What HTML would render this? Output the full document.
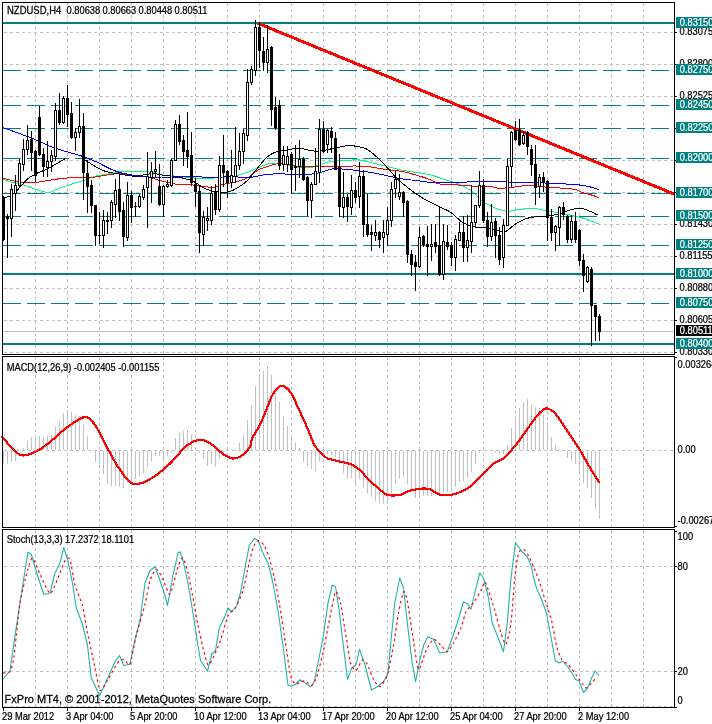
<!DOCTYPE html>
<html><head><meta charset="utf-8"><title>NZDUSD,H4</title>
<style>html,body{margin:0;padding:0;background:#fff;overflow:hidden}svg{display:block}</style>
</head><body><svg width="712" height="724" viewBox="0 0 712 724"><g stroke="#c0c0c0" stroke-width="1" stroke-dasharray="3 3" shape-rendering="crispEdges"><line x1="35.5" y1="3" x2="35.5" y2="354"/><line x1="35.5" y1="357" x2="35.5" y2="527"/><line x1="35.5" y1="530" x2="35.5" y2="707"/><line x1="67.5" y1="3" x2="67.5" y2="354"/><line x1="67.5" y1="357" x2="67.5" y2="527"/><line x1="67.5" y1="530" x2="67.5" y2="707"/><line x1="99.5" y1="3" x2="99.5" y2="354"/><line x1="99.5" y1="357" x2="99.5" y2="527"/><line x1="99.5" y1="530" x2="99.5" y2="707"/><line x1="131.5" y1="3" x2="131.5" y2="354"/><line x1="131.5" y1="357" x2="131.5" y2="527"/><line x1="131.5" y1="530" x2="131.5" y2="707"/><line x1="163.5" y1="3" x2="163.5" y2="354"/><line x1="163.5" y1="357" x2="163.5" y2="527"/><line x1="163.5" y1="530" x2="163.5" y2="707"/><line x1="195.5" y1="3" x2="195.5" y2="354"/><line x1="195.5" y1="357" x2="195.5" y2="527"/><line x1="195.5" y1="530" x2="195.5" y2="707"/><line x1="227.5" y1="3" x2="227.5" y2="354"/><line x1="227.5" y1="357" x2="227.5" y2="527"/><line x1="227.5" y1="530" x2="227.5" y2="707"/><line x1="259.5" y1="3" x2="259.5" y2="354"/><line x1="259.5" y1="357" x2="259.5" y2="527"/><line x1="259.5" y1="530" x2="259.5" y2="707"/><line x1="291.5" y1="3" x2="291.5" y2="354"/><line x1="291.5" y1="357" x2="291.5" y2="527"/><line x1="291.5" y1="530" x2="291.5" y2="707"/><line x1="323.5" y1="3" x2="323.5" y2="354"/><line x1="323.5" y1="357" x2="323.5" y2="527"/><line x1="323.5" y1="530" x2="323.5" y2="707"/><line x1="355.5" y1="3" x2="355.5" y2="354"/><line x1="355.5" y1="357" x2="355.5" y2="527"/><line x1="355.5" y1="530" x2="355.5" y2="707"/><line x1="387.5" y1="3" x2="387.5" y2="354"/><line x1="387.5" y1="357" x2="387.5" y2="527"/><line x1="387.5" y1="530" x2="387.5" y2="707"/><line x1="419.5" y1="3" x2="419.5" y2="354"/><line x1="419.5" y1="357" x2="419.5" y2="527"/><line x1="419.5" y1="530" x2="419.5" y2="707"/><line x1="451.5" y1="3" x2="451.5" y2="354"/><line x1="451.5" y1="357" x2="451.5" y2="527"/><line x1="451.5" y1="530" x2="451.5" y2="707"/><line x1="483.5" y1="3" x2="483.5" y2="354"/><line x1="483.5" y1="357" x2="483.5" y2="527"/><line x1="483.5" y1="530" x2="483.5" y2="707"/><line x1="515.5" y1="3" x2="515.5" y2="354"/><line x1="515.5" y1="357" x2="515.5" y2="527"/><line x1="515.5" y1="530" x2="515.5" y2="707"/><line x1="547.5" y1="3" x2="547.5" y2="354"/><line x1="547.5" y1="357" x2="547.5" y2="527"/><line x1="547.5" y1="530" x2="547.5" y2="707"/><line x1="579.5" y1="3" x2="579.5" y2="354"/><line x1="579.5" y1="357" x2="579.5" y2="527"/><line x1="579.5" y1="530" x2="579.5" y2="707"/><line x1="611.5" y1="3" x2="611.5" y2="354"/><line x1="611.5" y1="357" x2="611.5" y2="527"/><line x1="611.5" y1="530" x2="611.5" y2="707"/><line x1="643.5" y1="3" x2="643.5" y2="354"/><line x1="643.5" y1="357" x2="643.5" y2="527"/><line x1="643.5" y1="530" x2="643.5" y2="707"/><line x1="4" y1="32.5" x2="674" y2="32.5"/><line x1="4" y1="64.5" x2="674" y2="64.5"/><line x1="4" y1="96.5" x2="674" y2="96.5"/><line x1="4" y1="128.5" x2="674" y2="128.5"/><line x1="4" y1="160.5" x2="674" y2="160.5"/><line x1="4" y1="192.5" x2="674" y2="192.5"/><line x1="4" y1="224.5" x2="674" y2="224.5"/><line x1="4" y1="256.5" x2="674" y2="256.5"/><line x1="4" y1="288.5" x2="674" y2="288.5"/><line x1="4" y1="320.5" x2="674" y2="320.5"/><line x1="4" y1="352.5" x2="674" y2="352.5"/><line x1="4" y1="450.5" x2="674" y2="450.5"/><line x1="4" y1="566.5" x2="674" y2="566.5"/><line x1="4" y1="671.5" x2="674" y2="671.5"/><line x1="4" y1="706.5" x2="674" y2="706.5"/></g><g fill="#008080" shape-rendering="crispEdges"><rect x="3" y="22" width="671" height="2"/><rect x="3" y="273" width="671" height="2"/><rect x="3" y="343" width="671" height="2"/></g><g fill="#fff" shape-rendering="crispEdges"><rect x="3" y="70" width="671" height="1"/><rect x="3" y="105" width="671" height="1"/><rect x="3" y="128" width="671" height="1"/><rect x="3" y="158" width="671" height="1"/><rect x="3" y="193" width="671" height="1"/><rect x="3" y="216" width="671" height="1"/><rect x="3" y="245" width="671" height="1"/><rect x="3" y="303" width="671" height="1"/></g><g stroke="#008080" stroke-width="1" stroke-dasharray="18 6" shape-rendering="crispEdges"><line x1="3" y1="70.5" x2="674" y2="70.5"/><line x1="3" y1="105.5" x2="674" y2="105.5"/><line x1="3" y1="128.5" x2="674" y2="128.5"/><line x1="3" y1="158.5" x2="674" y2="158.5"/><line x1="3" y1="193.5" x2="674" y2="193.5"/><line x1="3" y1="216.5" x2="674" y2="216.5"/><line x1="3" y1="245.5" x2="674" y2="245.5"/><line x1="3" y1="303.5" x2="674" y2="303.5"/></g><line x1="3" y1="331.5" x2="674" y2="331.5" stroke="#c0c0c0" stroke-width="1" shape-rendering="crispEdges"/><line x1="258" y1="23.3" x2="674" y2="194.0" stroke="#ff0000" stroke-width="3" shape-rendering="crispEdges"/><path fill="none" stroke="#00ff7f" stroke-width="1" shape-rendering="crispEdges" d="M3.00,179.40 C4.58,179.92 9.25,181.67 12.50,182.50 C15.75,183.33 19.17,183.47 22.50,184.40 C25.83,185.33 28.33,186.75 32.50,188.10 C36.67,189.45 43.75,192.18 47.50,192.50 C51.25,192.82 52.08,191.04 55.00,190.00 C57.92,188.96 61.67,187.40 65.00,186.25 C68.33,185.10 71.67,184.14 75.00,183.10 C78.33,182.06 81.67,181.14 85.00,180.00 C88.33,178.86 90.83,177.29 95.00,176.25 C99.17,175.21 105.00,174.58 110.00,173.75 C115.00,172.92 120.00,171.67 125.00,171.25 C130.00,170.83 135.42,171.04 140.00,171.25 C144.58,171.46 148.33,171.79 152.50,172.50 C156.67,173.21 160.75,174.88 165.00,175.50 C169.25,176.12 171.67,175.71 178.00,176.25 C184.33,176.79 196.33,178.54 203.00,178.75 C209.67,178.96 213.00,177.92 218.00,177.50 C223.00,177.08 228.83,176.88 233.00,176.25 C237.17,175.62 239.67,174.79 243.00,173.75 C246.33,172.71 249.67,171.38 253.00,170.00 C256.33,168.62 259.67,166.62 263.00,165.50 C266.33,164.38 269.67,163.54 273.00,163.25 C276.33,162.96 279.67,163.12 283.00,163.75 C286.33,164.38 289.67,166.38 293.00,167.00 C296.33,167.62 299.67,167.50 303.00,167.50 C306.33,167.50 309.67,167.62 313.00,167.00 C316.33,166.38 319.67,164.71 323.00,163.75 C326.33,162.79 328.83,161.75 333.00,161.25 C337.17,160.75 344.17,161.04 348.00,160.75 C351.83,160.46 352.17,159.21 356.00,159.50 C359.83,159.79 366.00,161.38 371.00,162.50 C376.00,163.62 381.00,165.00 386.00,166.25 C391.00,167.50 396.00,168.96 401.00,170.00 C406.00,171.04 411.00,171.67 416.00,172.50 C421.00,173.33 426.00,173.75 431.00,175.00 C436.00,176.25 441.00,178.33 446.00,180.00 C451.00,181.67 456.42,182.92 461.00,185.00 C465.58,187.08 470.17,190.00 473.50,192.50 C476.83,195.00 478.08,197.71 481.00,200.00 C483.92,202.29 486.83,204.38 491.00,206.25 C495.17,208.12 501.42,210.71 506.00,211.25 C510.58,211.79 513.83,209.96 518.50,209.50 C523.17,209.04 529.58,208.33 534.00,208.50 C538.42,208.67 540.67,209.75 545.00,210.50 C549.33,211.25 555.00,212.04 560.00,213.00 C565.00,213.96 570.83,215.29 575.00,216.25 C579.17,217.21 580.83,217.38 585.00,218.75 C589.17,220.12 597.50,223.54 600.00,224.50"/><path fill="none" stroke="#ff0000" stroke-width="1" shape-rendering="crispEdges" d="M3.00,178.10 C4.58,178.52 9.67,179.91 12.50,180.60 C15.33,181.29 17.92,181.93 20.00,182.25 C22.08,182.57 22.50,182.46 25.00,182.50 C27.50,182.54 31.67,182.75 35.00,182.50 C38.33,182.25 41.67,181.52 45.00,181.00 C48.33,180.48 51.67,179.88 55.00,179.40 C58.33,178.92 60.83,178.37 65.00,178.10 C69.17,177.83 75.00,177.98 80.00,177.80 C85.00,177.62 90.00,177.55 95.00,177.00 C100.00,176.45 105.83,175.04 110.00,174.50 C114.17,173.96 115.83,173.58 120.00,173.75 C124.17,173.92 130.00,174.88 135.00,175.50 C140.00,176.12 145.42,176.54 150.00,177.50 C154.58,178.46 157.83,180.08 162.50,181.25 C167.17,182.42 172.92,183.88 178.00,184.50 C183.08,185.12 188.00,184.58 193.00,185.00 C198.00,185.42 204.25,186.67 208.00,187.00 C211.75,187.33 213.00,187.42 215.50,187.00 C218.00,186.58 219.25,185.46 223.00,184.50 C226.75,183.54 233.83,182.42 238.00,181.25 C242.17,180.08 244.67,179.38 248.00,177.50 C251.33,175.62 254.67,171.88 258.00,170.00 C261.33,168.12 264.67,167.29 268.00,166.25 C271.33,165.21 274.67,164.04 278.00,163.75 C281.33,163.46 284.67,164.08 288.00,164.50 C291.33,164.92 294.67,165.96 298.00,166.25 C301.33,166.54 304.67,166.12 308.00,166.25 C311.33,166.38 313.83,167.00 318.00,167.00 C322.17,167.00 328.00,166.38 333.00,166.25 C338.00,166.12 344.17,166.29 348.00,166.25 C351.83,166.21 352.17,165.88 356.00,166.00 C359.83,166.12 366.00,166.42 371.00,167.00 C376.00,167.58 381.00,168.79 386.00,169.50 C391.00,170.21 396.00,170.33 401.00,171.25 C406.00,172.17 411.00,173.54 416.00,175.00 C421.00,176.46 427.25,178.54 431.00,180.00 C434.75,181.46 435.17,183.00 438.50,183.75 C441.83,184.50 447.75,184.29 451.00,184.50 C454.25,184.71 455.67,184.82 458.00,185.00 C460.33,185.18 462.17,185.39 465.00,185.60 C467.83,185.81 471.67,186.10 475.00,186.25 C478.33,186.40 482.08,186.39 485.00,186.50 C487.92,186.61 490.17,186.57 492.50,186.90 C494.83,187.23 496.50,188.36 499.00,188.50 C501.50,188.64 504.83,188.00 507.50,187.75 C510.17,187.50 512.50,187.29 515.00,187.00 C517.50,186.71 520.00,186.23 522.50,186.00 C525.00,185.77 527.50,185.56 530.00,185.60 C532.50,185.64 535.00,186.02 537.50,186.25 C540.00,186.48 541.25,186.71 545.00,187.00 C548.75,187.29 555.00,187.58 560.00,188.00 C565.00,188.42 571.25,188.75 575.00,189.50 C578.75,190.25 580.00,191.67 582.50,192.50 C585.00,193.33 587.29,193.67 590.00,194.50 C592.71,195.33 597.29,197.00 598.75,197.50"/><path fill="none" stroke="#0000ff" stroke-width="1" shape-rendering="crispEdges" d="M3.00,127.50 C5.83,128.54 14.67,131.75 20.00,133.75 C25.33,135.75 30.00,137.42 35.00,139.50 C40.00,141.58 45.00,144.29 50.00,146.25 C55.00,148.21 60.00,149.71 65.00,151.25 C70.00,152.79 75.00,153.83 80.00,155.50 C85.00,157.17 90.00,159.04 95.00,161.25 C100.00,163.46 105.83,166.88 110.00,168.75 C114.17,170.62 115.83,171.38 120.00,172.50 C124.17,173.62 130.00,174.67 135.00,175.50 C140.00,176.33 145.42,177.08 150.00,177.50 C154.58,177.92 157.83,178.08 162.50,178.00 C167.17,177.92 172.92,177.29 178.00,177.00 C183.08,176.71 188.00,176.17 193.00,176.25 C198.00,176.33 203.00,177.38 208.00,177.50 C213.00,177.62 218.00,177.08 223.00,177.00 C228.00,176.92 233.00,177.00 238.00,177.00 C243.00,177.00 248.83,177.33 253.00,177.00 C257.17,176.67 258.83,175.54 263.00,175.00 C267.17,174.46 273.00,173.83 278.00,173.75 C283.00,173.67 288.00,174.38 293.00,174.50 C298.00,174.62 303.42,174.83 308.00,174.50 C312.58,174.17 316.33,173.46 320.50,172.50 C324.67,171.54 328.42,169.25 333.00,168.75 C337.58,168.25 344.17,169.21 348.00,169.50 C351.83,169.79 352.17,170.00 356.00,170.50 C359.83,171.00 366.00,171.67 371.00,172.50 C376.00,173.33 381.00,174.46 386.00,175.50 C391.00,176.54 396.00,177.92 401.00,178.75 C406.00,179.58 411.00,179.88 416.00,180.50 C421.00,181.12 426.00,182.08 431.00,182.50 C436.00,182.92 441.00,183.00 446.00,183.00 C451.00,183.00 456.00,182.79 461.00,182.50 C466.00,182.21 471.00,181.46 476.00,181.25 C481.00,181.04 486.00,181.12 491.00,181.25 C496.00,181.38 501.00,181.79 506.00,182.00 C511.00,182.21 516.33,182.42 521.00,182.50 C525.67,182.58 530.00,182.42 534.00,182.50 C538.00,182.58 540.67,182.79 545.00,183.00 C549.33,183.21 555.00,183.50 560.00,183.75 C565.00,184.00 570.42,184.08 575.00,184.50 C579.58,184.92 583.54,185.42 587.50,186.25 C591.46,187.08 596.88,188.96 598.75,189.50"/><path fill="none" stroke="#000000" stroke-width="1" shape-rendering="crispEdges" d="M3.00,197.50 C4.07,197.29 7.19,197.29 9.40,196.25 C11.61,195.21 14.28,193.03 16.25,191.25 C18.23,189.47 19.17,187.81 21.25,185.60 C23.33,183.39 26.67,179.77 28.75,178.00 C30.83,176.23 32.29,175.83 33.75,175.00 C35.21,174.17 35.62,173.83 37.50,173.00 C39.38,172.17 42.50,171.17 45.00,170.00 C47.50,168.83 50.21,167.25 52.50,166.00 C54.79,164.75 56.67,163.71 58.75,162.50 C60.83,161.29 63.96,159.38 65.00,158.75"/><path fill="none" stroke="#000000" stroke-width="1" shape-rendering="crispEdges" d="M85.00,160.00 C86.67,161.04 91.67,164.38 95.00,166.25 C98.33,168.12 101.25,170.00 105.00,171.25 C108.75,172.50 112.50,172.92 117.50,173.75 C122.50,174.58 130.42,176.12 135.00,176.25 C139.58,176.38 141.67,174.92 145.00,174.50 C148.33,174.08 151.67,173.58 155.00,173.75 C158.33,173.92 161.17,174.96 165.00,175.50 C168.83,176.04 173.33,176.04 178.00,177.00 C182.67,177.96 188.83,179.50 193.00,181.25 C197.17,183.00 199.67,185.83 203.00,187.50 C206.33,189.17 208.83,190.50 213.00,191.25 C217.17,192.00 223.83,192.62 228.00,192.00 C232.17,191.38 234.67,189.50 238.00,187.50 C241.33,185.50 244.67,183.33 248.00,180.00 C251.33,176.67 254.67,171.46 258.00,167.50 C261.33,163.54 264.67,158.96 268.00,156.25 C271.33,153.54 274.67,152.29 278.00,151.25 C281.33,150.21 284.67,150.54 288.00,150.00 C291.33,149.46 294.67,148.00 298.00,148.00 C301.33,148.00 304.67,149.46 308.00,150.00 C311.33,150.54 314.67,151.33 318.00,151.25 C321.33,151.17 324.67,150.12 328.00,149.50 C331.33,148.88 334.67,148.17 338.00,147.50 C341.33,146.83 345.00,145.71 348.00,145.50 C351.00,145.29 353.00,145.71 356.00,146.25 C359.00,146.79 362.67,147.08 366.00,148.75 C369.33,150.42 372.67,153.33 376.00,156.25 C379.33,159.17 382.67,162.71 386.00,166.25 C389.33,169.79 392.67,174.17 396.00,177.50 C399.33,180.83 402.67,183.54 406.00,186.25 C409.33,188.96 412.67,191.46 416.00,193.75 C419.33,196.04 422.25,197.92 426.00,200.00 C429.75,202.08 434.33,204.17 438.50,206.25 C442.67,208.33 447.25,210.00 451.00,212.50 C454.75,215.00 457.67,218.96 461.00,221.25 C464.33,223.54 467.67,225.21 471.00,226.25 C474.33,227.29 477.67,227.08 481.00,227.50 C484.33,227.92 487.67,228.12 491.00,228.75 C494.33,229.38 498.50,230.83 501.00,231.25 C503.50,231.67 503.50,232.50 506.00,231.25 C508.50,230.00 512.67,225.83 516.00,223.75 C519.33,221.67 523.00,219.88 526.00,218.75 C529.00,217.62 530.83,217.42 534.00,217.00 C537.17,216.58 540.67,216.79 545.00,216.25 C549.33,215.71 555.83,214.79 560.00,213.75 C564.17,212.71 566.67,210.92 570.00,210.00 C573.33,209.08 576.67,208.04 580.00,208.25 C583.33,208.46 587.08,210.12 590.00,211.25 C592.92,212.38 596.25,214.38 597.50,215.00"/><g fill="#000" shape-rendering="crispEdges"><rect x="3" y="196" width="1" height="45"/><rect x="2" y="197" width="3" height="43"/><rect x="7" y="214" width="1" height="44"/><rect x="6" y="216" width="3" height="3"/><rect x="11" y="184" width="1" height="53"/><rect x="10" y="189" width="3" height="30"/><rect x="15" y="175" width="1" height="36"/><rect x="14" y="185" width="3" height="9"/><rect x="19" y="159" width="1" height="28"/><rect x="18" y="163" width="3" height="23"/><rect x="23" y="139" width="1" height="32"/><rect x="22" y="149" width="3" height="16"/><rect x="27" y="125" width="1" height="30"/><rect x="26" y="140" width="3" height="10"/><rect x="31" y="131" width="1" height="40"/><rect x="30" y="139" width="3" height="14"/><rect x="35" y="150" width="1" height="32"/><rect x="34" y="151" width="3" height="25"/><rect x="39" y="106" width="1" height="50"/><rect x="38" y="117" width="3" height="38"/><rect x="43" y="148" width="1" height="29"/><rect x="42" y="154" width="3" height="13"/><rect x="47" y="141" width="1" height="36"/><rect x="46" y="161" width="3" height="7"/><rect x="51" y="150" width="1" height="22"/><rect x="50" y="155" width="3" height="7"/><rect x="55" y="103" width="1" height="58"/><rect x="54" y="110" width="3" height="47"/><rect x="59" y="93" width="1" height="32"/><rect x="58" y="110" width="3" height="13"/><rect x="63" y="96" width="1" height="28"/><rect x="62" y="98" width="3" height="25"/><rect x="67" y="85" width="1" height="42"/><rect x="66" y="98" width="3" height="17"/><rect x="71" y="102" width="1" height="37"/><rect x="70" y="113" width="3" height="25"/><rect x="75" y="128" width="1" height="23"/><rect x="74" y="132" width="3" height="6"/><rect x="79" y="99" width="1" height="39"/><rect x="78" y="126" width="3" height="7"/><rect x="83" y="113" width="1" height="87"/><rect x="82" y="126" width="3" height="47"/><rect x="87" y="160" width="1" height="53"/><rect x="86" y="173" width="3" height="14"/><rect x="91" y="180" width="1" height="33"/><rect x="90" y="185" width="3" height="21"/><rect x="95" y="205" width="1" height="41"/><rect x="94" y="205" width="3" height="31"/><rect x="99" y="212" width="1" height="32"/><rect x="98" y="235" width="3" height="1"/><rect x="103" y="210" width="1" height="38"/><rect x="102" y="220" width="3" height="16"/><rect x="107" y="212" width="1" height="22"/><rect x="106" y="220" width="3" height="2"/><rect x="111" y="200" width="1" height="28"/><rect x="110" y="202" width="3" height="19"/><rect x="115" y="179" width="1" height="39"/><rect x="114" y="190" width="3" height="15"/><rect x="119" y="175" width="1" height="46"/><rect x="118" y="189" width="3" height="23"/><rect x="123" y="202" width="1" height="45"/><rect x="122" y="210" width="3" height="27"/><rect x="127" y="182" width="1" height="59"/><rect x="126" y="195" width="3" height="43"/><rect x="131" y="191" width="1" height="32"/><rect x="130" y="195" width="3" height="13"/><rect x="135" y="202" width="1" height="15"/><rect x="134" y="206" width="3" height="1"/><rect x="139" y="194" width="1" height="14"/><rect x="138" y="196" width="3" height="11"/><rect x="143" y="185" width="1" height="15"/><rect x="142" y="189" width="3" height="9"/><rect x="147" y="152" width="1" height="76"/><rect x="146" y="176" width="3" height="12"/><rect x="151" y="162" width="1" height="41"/><rect x="150" y="171" width="3" height="7"/><rect x="155" y="151" width="1" height="27"/><rect x="154" y="169" width="3" height="3"/><rect x="159" y="164" width="1" height="42"/><rect x="158" y="186" width="3" height="19"/><rect x="163" y="185" width="1" height="32"/><rect x="162" y="186" width="3" height="19"/><rect x="167" y="180" width="1" height="8"/><rect x="166" y="184" width="3" height="3"/><rect x="171" y="159" width="1" height="28"/><rect x="170" y="160" width="3" height="26"/><rect x="175" y="120" width="1" height="41"/><rect x="174" y="124" width="3" height="37"/><rect x="179" y="115" width="1" height="30"/><rect x="178" y="124" width="3" height="18"/><rect x="183" y="135" width="1" height="31"/><rect x="182" y="140" width="3" height="12"/><rect x="187" y="112" width="1" height="56"/><rect x="186" y="150" width="3" height="7"/><rect x="191" y="132" width="1" height="54"/><rect x="190" y="155" width="3" height="28"/><rect x="195" y="178" width="1" height="29"/><rect x="194" y="184" width="3" height="8"/><rect x="199" y="185" width="1" height="68"/><rect x="198" y="191" width="3" height="42"/><rect x="203" y="211" width="1" height="35"/><rect x="202" y="217" width="3" height="18"/><rect x="207" y="207" width="1" height="24"/><rect x="206" y="218" width="3" height="3"/><rect x="211" y="186" width="1" height="39"/><rect x="210" y="193" width="3" height="28"/><rect x="215" y="184" width="1" height="31"/><rect x="214" y="192" width="3" height="18"/><rect x="219" y="156" width="1" height="56"/><rect x="218" y="165" width="3" height="45"/><rect x="223" y="135" width="1" height="52"/><rect x="222" y="165" width="3" height="8"/><rect x="227" y="170" width="1" height="28"/><rect x="226" y="171" width="3" height="12"/><rect x="231" y="150" width="1" height="38"/><rect x="230" y="175" width="3" height="8"/><rect x="235" y="127" width="1" height="56"/><rect x="234" y="165" width="3" height="12"/><rect x="239" y="133" width="1" height="37"/><rect x="238" y="151" width="3" height="15"/><rect x="243" y="129" width="1" height="35"/><rect x="242" y="133" width="3" height="19"/><rect x="247" y="69" width="1" height="72"/><rect x="246" y="82" width="3" height="54"/><rect x="251" y="66" width="1" height="19"/><rect x="250" y="69" width="3" height="14"/><rect x="255" y="20" width="1" height="56"/><rect x="254" y="27" width="3" height="44"/><rect x="259" y="22" width="1" height="46"/><rect x="258" y="27" width="3" height="24"/><rect x="263" y="37" width="1" height="34"/><rect x="262" y="51" width="3" height="12"/><rect x="267" y="25" width="1" height="48"/><rect x="266" y="49" width="3" height="14"/><rect x="271" y="46" width="1" height="80"/><rect x="270" y="47" width="3" height="63"/><rect x="275" y="97" width="1" height="33"/><rect x="274" y="107" width="3" height="21"/><rect x="279" y="100" width="1" height="70"/><rect x="278" y="105" width="3" height="61"/><rect x="283" y="146" width="1" height="25"/><rect x="282" y="155" width="3" height="10"/><rect x="287" y="146" width="1" height="26"/><rect x="286" y="156" width="3" height="9"/><rect x="291" y="152" width="1" height="42"/><rect x="290" y="154" width="3" height="16"/><rect x="295" y="145" width="1" height="46"/><rect x="294" y="166" width="3" height="2"/><rect x="299" y="140" width="1" height="38"/><rect x="298" y="159" width="3" height="8"/><rect x="303" y="157" width="1" height="24"/><rect x="302" y="159" width="3" height="21"/><rect x="307" y="176" width="1" height="40"/><rect x="306" y="177" width="3" height="24"/><rect x="311" y="182" width="1" height="36"/><rect x="310" y="184" width="3" height="17"/><rect x="315" y="148" width="1" height="37"/><rect x="314" y="171" width="3" height="14"/><rect x="319" y="119" width="1" height="64"/><rect x="318" y="129" width="3" height="44"/><rect x="323" y="121" width="1" height="32"/><rect x="322" y="129" width="3" height="23"/><rect x="327" y="129" width="1" height="24"/><rect x="326" y="130" width="3" height="15"/><rect x="331" y="127" width="1" height="26"/><rect x="330" y="131" width="3" height="7"/><rect x="335" y="132" width="1" height="38"/><rect x="334" y="138" width="3" height="32"/><rect x="339" y="154" width="1" height="63"/><rect x="338" y="167" width="3" height="40"/><rect x="343" y="172" width="1" height="46"/><rect x="342" y="197" width="3" height="11"/><rect x="347" y="194" width="1" height="28"/><rect x="346" y="197" width="3" height="10"/><rect x="351" y="175" width="1" height="40"/><rect x="350" y="190" width="3" height="18"/><rect x="355" y="182" width="1" height="21"/><rect x="354" y="190" width="3" height="8"/><rect x="359" y="162" width="1" height="46"/><rect x="358" y="176" width="3" height="21"/><rect x="363" y="170" width="1" height="67"/><rect x="362" y="176" width="3" height="49"/><rect x="367" y="194" width="1" height="43"/><rect x="366" y="224" width="3" height="11"/><rect x="371" y="225" width="1" height="26"/><rect x="370" y="232" width="3" height="3"/><rect x="375" y="220" width="1" height="21"/><rect x="374" y="232" width="3" height="4"/><rect x="379" y="231" width="1" height="17"/><rect x="378" y="232" width="3" height="8"/><rect x="383" y="220" width="1" height="33"/><rect x="382" y="232" width="3" height="6"/><rect x="387" y="207" width="1" height="39"/><rect x="386" y="220" width="3" height="15"/><rect x="391" y="182" width="1" height="45"/><rect x="390" y="189" width="3" height="32"/><rect x="395" y="171" width="1" height="27"/><rect x="394" y="179" width="3" height="10"/><rect x="399" y="174" width="1" height="26"/><rect x="398" y="192" width="3" height="5"/><rect x="403" y="191" width="1" height="26"/><rect x="402" y="192" width="3" height="11"/><rect x="407" y="200" width="1" height="63"/><rect x="406" y="201" width="3" height="54"/><rect x="411" y="250" width="1" height="26"/><rect x="410" y="254" width="3" height="11"/><rect x="415" y="255" width="1" height="36"/><rect x="414" y="262" width="3" height="5"/><rect x="419" y="227" width="1" height="41"/><rect x="418" y="237" width="3" height="30"/><rect x="423" y="235" width="1" height="12"/><rect x="422" y="236" width="3" height="9"/><rect x="427" y="226" width="1" height="50"/><rect x="426" y="244" width="3" height="3"/><rect x="431" y="224" width="1" height="37"/><rect x="430" y="244" width="3" height="3"/><rect x="435" y="224" width="1" height="29"/><rect x="434" y="242" width="3" height="5"/><rect x="439" y="207" width="1" height="69"/><rect x="438" y="245" width="3" height="30"/><rect x="443" y="224" width="1" height="56"/><rect x="442" y="241" width="3" height="34"/><rect x="447" y="225" width="1" height="25"/><rect x="446" y="242" width="3" height="5"/><rect x="451" y="242" width="1" height="24"/><rect x="450" y="245" width="3" height="13"/><rect x="455" y="235" width="1" height="36"/><rect x="454" y="239" width="3" height="19"/><rect x="459" y="222" width="1" height="19"/><rect x="458" y="232" width="3" height="9"/><rect x="463" y="216" width="1" height="46"/><rect x="462" y="232" width="3" height="16"/><rect x="467" y="215" width="1" height="47"/><rect x="466" y="240" width="3" height="8"/><rect x="471" y="185" width="1" height="68"/><rect x="470" y="222" width="3" height="20"/><rect x="475" y="205" width="1" height="23"/><rect x="474" y="205" width="3" height="18"/><rect x="479" y="171" width="1" height="37"/><rect x="478" y="185" width="3" height="21"/><rect x="483" y="179" width="1" height="44"/><rect x="482" y="185" width="3" height="36"/><rect x="487" y="212" width="1" height="35"/><rect x="486" y="220" width="3" height="17"/><rect x="491" y="204" width="1" height="37"/><rect x="490" y="222" width="3" height="15"/><rect x="495" y="218" width="1" height="40"/><rect x="494" y="221" width="3" height="15"/><rect x="499" y="227" width="1" height="38"/><rect x="498" y="235" width="3" height="25"/><rect x="503" y="219" width="1" height="49"/><rect x="502" y="225" width="3" height="33"/><rect x="507" y="159" width="1" height="67"/><rect x="506" y="166" width="3" height="60"/><rect x="511" y="131" width="1" height="56"/><rect x="510" y="132" width="3" height="35"/><rect x="515" y="121" width="1" height="20"/><rect x="514" y="130" width="3" height="10"/><rect x="519" y="119" width="1" height="27"/><rect x="518" y="130" width="3" height="15"/><rect x="523" y="131" width="1" height="14"/><rect x="522" y="135" width="3" height="9"/><rect x="527" y="131" width="1" height="24"/><rect x="526" y="132" width="3" height="15"/><rect x="531" y="145" width="1" height="31"/><rect x="530" y="149" width="3" height="16"/><rect x="535" y="145" width="1" height="60"/><rect x="534" y="164" width="3" height="24"/><rect x="539" y="174" width="1" height="24"/><rect x="538" y="177" width="3" height="10"/><rect x="543" y="172" width="1" height="20"/><rect x="542" y="177" width="3" height="5"/><rect x="547" y="180" width="1" height="61"/><rect x="546" y="181" width="3" height="37"/><rect x="551" y="209" width="1" height="32"/><rect x="550" y="217" width="3" height="16"/><rect x="555" y="225" width="1" height="26"/><rect x="554" y="226" width="3" height="7"/><rect x="559" y="206" width="1" height="40"/><rect x="558" y="207" width="3" height="21"/><rect x="563" y="202" width="1" height="18"/><rect x="562" y="207" width="3" height="8"/><rect x="567" y="215" width="1" height="28"/><rect x="566" y="216" width="3" height="24"/><rect x="571" y="215" width="1" height="28"/><rect x="570" y="221" width="3" height="19"/><rect x="575" y="212" width="1" height="31"/><rect x="574" y="221" width="3" height="19"/><rect x="579" y="229" width="1" height="37"/><rect x="578" y="230" width="3" height="31"/><rect x="583" y="254" width="1" height="38"/><rect x="582" y="260" width="3" height="16"/><rect x="587" y="266" width="1" height="17"/><rect x="586" y="267" width="3" height="15"/><rect x="591" y="267" width="1" height="79"/><rect x="590" y="269" width="3" height="37"/><rect x="595" y="305" width="1" height="36"/><rect x="594" y="305" width="3" height="12"/><rect x="599" y="314" width="1" height="27"/><rect x="598" y="316" width="3" height="16"/></g><g fill="#fff" shape-rendering="crispEdges"><rect x="11" y="190" width="1" height="28"/><rect x="15" y="186" width="1" height="7"/><rect x="19" y="164" width="1" height="21"/><rect x="23" y="150" width="1" height="14"/><rect x="27" y="141" width="1" height="8"/><rect x="47" y="162" width="1" height="5"/><rect x="51" y="156" width="1" height="5"/><rect x="55" y="111" width="1" height="45"/><rect x="63" y="99" width="1" height="23"/><rect x="75" y="133" width="1" height="4"/><rect x="79" y="127" width="1" height="5"/><rect x="103" y="221" width="1" height="14"/><rect x="111" y="203" width="1" height="17"/><rect x="115" y="191" width="1" height="13"/><rect x="127" y="196" width="1" height="41"/><rect x="139" y="197" width="1" height="9"/><rect x="143" y="190" width="1" height="7"/><rect x="147" y="177" width="1" height="10"/><rect x="151" y="172" width="1" height="5"/><rect x="155" y="170" width="1" height="1"/><rect x="163" y="187" width="1" height="17"/><rect x="167" y="185" width="1" height="1"/><rect x="171" y="161" width="1" height="24"/><rect x="175" y="125" width="1" height="35"/><rect x="203" y="218" width="1" height="16"/><rect x="207" y="219" width="1" height="1"/><rect x="211" y="194" width="1" height="26"/><rect x="219" y="166" width="1" height="43"/><rect x="231" y="176" width="1" height="6"/><rect x="235" y="166" width="1" height="10"/><rect x="239" y="152" width="1" height="13"/><rect x="243" y="134" width="1" height="17"/><rect x="247" y="83" width="1" height="52"/><rect x="251" y="70" width="1" height="12"/><rect x="255" y="28" width="1" height="42"/><rect x="267" y="50" width="1" height="12"/><rect x="283" y="156" width="1" height="8"/><rect x="287" y="157" width="1" height="7"/><rect x="299" y="160" width="1" height="6"/><rect x="311" y="185" width="1" height="15"/><rect x="315" y="172" width="1" height="12"/><rect x="319" y="130" width="1" height="42"/><rect x="327" y="131" width="1" height="13"/><rect x="343" y="198" width="1" height="9"/><rect x="351" y="191" width="1" height="16"/><rect x="359" y="177" width="1" height="19"/><rect x="375" y="233" width="1" height="2"/><rect x="383" y="233" width="1" height="4"/><rect x="387" y="221" width="1" height="13"/><rect x="391" y="190" width="1" height="30"/><rect x="395" y="180" width="1" height="8"/><rect x="399" y="193" width="1" height="3"/><rect x="419" y="238" width="1" height="28"/><rect x="431" y="245" width="1" height="1"/><rect x="443" y="242" width="1" height="32"/><rect x="455" y="240" width="1" height="17"/><rect x="459" y="233" width="1" height="7"/><rect x="467" y="241" width="1" height="6"/><rect x="471" y="223" width="1" height="18"/><rect x="475" y="206" width="1" height="16"/><rect x="479" y="186" width="1" height="19"/><rect x="491" y="223" width="1" height="13"/><rect x="503" y="226" width="1" height="31"/><rect x="507" y="167" width="1" height="58"/><rect x="511" y="133" width="1" height="33"/><rect x="523" y="136" width="1" height="7"/><rect x="539" y="178" width="1" height="8"/><rect x="555" y="227" width="1" height="5"/><rect x="559" y="208" width="1" height="19"/><rect x="571" y="222" width="1" height="17"/><rect x="587" y="268" width="1" height="13"/></g><g fill="#c0c0c0" shape-rendering="crispEdges"><rect x="3" y="451" width="1" height="12"/><rect x="7" y="451" width="1" height="13"/><rect x="11" y="451" width="1" height="11"/><rect x="15" y="451" width="1" height="10"/><rect x="23" y="448" width="1" height="2"/><rect x="27" y="441" width="1" height="9"/><rect x="31" y="437" width="1" height="13"/><rect x="35" y="438" width="1" height="12"/><rect x="39" y="436" width="1" height="14"/><rect x="43" y="437" width="1" height="13"/><rect x="47" y="436" width="1" height="14"/><rect x="51" y="435" width="1" height="15"/><rect x="55" y="427" width="1" height="23"/><rect x="59" y="421" width="1" height="29"/><rect x="63" y="413" width="1" height="37"/><rect x="67" y="410" width="1" height="40"/><rect x="71" y="412" width="1" height="38"/><rect x="75" y="415" width="1" height="35"/><rect x="79" y="416" width="1" height="34"/><rect x="83" y="425" width="1" height="25"/><rect x="87" y="436" width="1" height="14"/><rect x="95" y="451" width="1" height="11"/><rect x="99" y="451" width="1" height="16"/><rect x="103" y="451" width="1" height="23"/><rect x="107" y="451" width="1" height="33"/><rect x="111" y="451" width="1" height="35"/><rect x="115" y="451" width="1" height="35"/><rect x="119" y="451" width="1" height="36"/><rect x="123" y="451" width="1" height="37"/><rect x="127" y="451" width="1" height="32"/><rect x="131" y="451" width="1" height="31"/><rect x="135" y="451" width="1" height="28"/><rect x="139" y="451" width="1" height="25"/><rect x="143" y="451" width="1" height="22"/><rect x="147" y="451" width="1" height="16"/><rect x="151" y="451" width="1" height="10"/><rect x="155" y="451" width="1" height="5"/><rect x="159" y="451" width="1" height="5"/><rect x="163" y="451" width="1" height="8"/><rect x="167" y="451" width="1" height="5"/><rect x="171" y="451" width="1" height="2"/><rect x="175" y="438" width="1" height="12"/><rect x="179" y="433" width="1" height="17"/><rect x="183" y="431" width="1" height="19"/><rect x="187" y="430" width="1" height="20"/><rect x="191" y="435" width="1" height="15"/><rect x="195" y="449" width="1" height="1"/><rect x="199" y="451" width="1" height="2"/><rect x="203" y="451" width="1" height="8"/><rect x="207" y="451" width="1" height="15"/><rect x="211" y="451" width="1" height="13"/><rect x="215" y="451" width="1" height="16"/><rect x="219" y="451" width="1" height="8"/><rect x="223" y="451" width="1" height="5"/><rect x="235" y="449" width="1" height="1"/><rect x="239" y="443" width="1" height="7"/><rect x="243" y="435" width="1" height="15"/><rect x="247" y="420" width="1" height="30"/><rect x="251" y="405" width="1" height="45"/><rect x="255" y="386" width="1" height="64"/><rect x="259" y="374" width="1" height="76"/><rect x="263" y="371" width="1" height="79"/><rect x="267" y="366" width="1" height="84"/><rect x="271" y="375" width="1" height="75"/><rect x="275" y="387" width="1" height="63"/><rect x="279" y="402" width="1" height="48"/><rect x="283" y="416" width="1" height="34"/><rect x="287" y="426" width="1" height="24"/><rect x="291" y="435" width="1" height="15"/><rect x="295" y="443" width="1" height="7"/><rect x="299" y="448" width="1" height="2"/><rect x="303" y="451" width="1" height="11"/><rect x="307" y="451" width="1" height="15"/><rect x="311" y="451" width="1" height="18"/><rect x="315" y="451" width="1" height="20"/><rect x="319" y="451" width="1" height="10"/><rect x="323" y="451" width="1" height="5"/><rect x="327" y="451" width="1" height="3"/><rect x="331" y="451" width="1" height="4"/><rect x="335" y="451" width="1" height="6"/><rect x="339" y="451" width="1" height="13"/><rect x="343" y="451" width="1" height="22"/><rect x="347" y="451" width="1" height="28"/><rect x="351" y="451" width="1" height="27"/><rect x="355" y="451" width="1" height="35"/><rect x="359" y="451" width="1" height="28"/><rect x="363" y="451" width="1" height="36"/><rect x="367" y="451" width="1" height="42"/><rect x="371" y="451" width="1" height="46"/><rect x="375" y="451" width="1" height="50"/><rect x="379" y="451" width="1" height="52"/><rect x="383" y="451" width="1" height="53"/><rect x="387" y="451" width="1" height="51"/><rect x="391" y="451" width="1" height="42"/><rect x="395" y="451" width="1" height="33"/><rect x="399" y="451" width="1" height="28"/><rect x="403" y="451" width="1" height="26"/><rect x="407" y="451" width="1" height="33"/><rect x="411" y="451" width="1" height="41"/><rect x="415" y="451" width="1" height="47"/><rect x="419" y="451" width="1" height="46"/><rect x="423" y="451" width="1" height="45"/><rect x="427" y="451" width="1" height="45"/><rect x="431" y="451" width="1" height="45"/><rect x="435" y="451" width="1" height="43"/><rect x="439" y="451" width="1" height="45"/><rect x="443" y="451" width="1" height="42"/><rect x="447" y="451" width="1" height="41"/><rect x="451" y="451" width="1" height="40"/><rect x="455" y="451" width="1" height="36"/><rect x="459" y="451" width="1" height="31"/><rect x="463" y="451" width="1" height="30"/><rect x="467" y="451" width="1" height="27"/><rect x="471" y="451" width="1" height="21"/><rect x="475" y="451" width="1" height="13"/><rect x="479" y="451" width="1" height="2"/><rect x="495" y="451" width="1" height="2"/><rect x="499" y="451" width="1" height="3"/><rect x="503" y="451" width="1" height="3"/><rect x="507" y="445" width="1" height="5"/><rect x="511" y="428" width="1" height="22"/><rect x="515" y="416" width="1" height="34"/><rect x="519" y="408" width="1" height="42"/><rect x="523" y="402" width="1" height="48"/><rect x="527" y="399" width="1" height="51"/><rect x="531" y="405" width="1" height="45"/><rect x="535" y="407" width="1" height="43"/><rect x="539" y="408" width="1" height="42"/><rect x="543" y="415" width="1" height="35"/><rect x="547" y="422" width="1" height="28"/><rect x="551" y="437" width="1" height="13"/><rect x="555" y="445" width="1" height="5"/><rect x="559" y="449" width="1" height="1"/><rect x="567" y="451" width="1" height="7"/><rect x="571" y="451" width="1" height="10"/><rect x="575" y="451" width="1" height="13"/><rect x="579" y="451" width="1" height="23"/><rect x="583" y="451" width="1" height="32"/><rect x="587" y="451" width="1" height="37"/><rect x="591" y="451" width="1" height="47"/><rect x="595" y="451" width="1" height="58"/><rect x="599" y="451" width="1" height="68"/></g><path fill="none" stroke="#ff0000" stroke-width="2.2" shape-rendering="crispEdges" d="M2.50,437.00 C2.67,437.25 0.58,435.54 3.50,438.50 C6.42,441.46 14.75,452.50 20.00,454.75 C25.25,457.00 30.00,454.12 35.00,452.00 C40.00,449.88 44.58,446.17 50.00,442.00 C55.42,437.83 61.67,431.17 67.50,427.00 C73.33,422.83 80.42,417.33 85.00,417.00 C89.58,416.67 91.67,420.58 95.00,425.00 C98.33,429.42 101.25,436.67 105.00,443.50 C108.75,450.33 113.33,459.58 117.50,466.00 C121.67,472.42 126.25,479.08 130.00,482.00 C133.75,484.92 135.83,484.50 140.00,483.50 C144.17,482.50 150.00,479.33 155.00,476.00 C160.00,472.67 166.17,467.04 170.00,463.50 C173.83,459.96 175.00,457.88 178.00,454.75 C181.00,451.62 184.25,447.25 188.00,444.75 C191.75,442.25 196.75,439.96 200.50,439.75 C204.25,439.54 206.75,441.12 210.50,443.50 C214.25,445.88 219.25,451.50 223.00,454.00 C226.75,456.50 229.67,458.38 233.00,458.50 C236.33,458.62 240.08,456.83 243.00,454.75 C245.92,452.67 249.00,448.66 250.50,446.00 C252.00,443.34 250.45,442.30 252.00,438.80 C253.55,435.30 257.52,429.58 259.80,425.00 C262.08,420.42 263.73,416.03 265.70,411.30 C267.67,406.57 269.80,400.23 271.60,396.60 C273.40,392.97 274.85,391.32 276.50,389.50 C278.15,387.68 279.92,386.03 281.50,385.70 C283.08,385.37 284.37,386.18 286.00,387.50 C287.63,388.82 289.63,391.02 291.30,393.60 C292.97,396.18 294.37,399.57 296.00,403.00 C297.63,406.43 299.43,410.53 301.10,414.20 C302.77,417.87 304.35,421.22 306.00,425.00 C307.65,428.78 309.50,433.40 311.00,436.90 C312.50,440.40 312.58,442.61 315.00,446.00 C317.42,449.39 322.08,454.83 325.50,457.25 C328.92,459.67 331.33,459.38 335.50,460.50 C339.67,461.62 347.08,462.83 350.50,464.00 C353.92,465.17 354.25,466.33 356.00,467.50 C357.75,468.67 358.92,468.96 361.00,471.00 C363.08,473.04 365.79,477.04 368.50,479.75 C371.21,482.46 374.12,484.75 377.25,487.25 C380.38,489.75 383.29,493.50 387.25,494.75 C391.21,496.00 397.46,495.38 401.00,494.75 C404.54,494.12 404.75,492.04 408.50,491.00 C412.25,489.96 419.75,488.71 423.50,488.50 C427.25,488.29 428.29,488.71 431.00,489.75 C433.71,490.79 436.42,493.92 439.75,494.75 C443.08,495.58 447.67,495.17 451.00,494.75 C454.33,494.33 456.42,493.71 459.75,492.25 C463.08,490.79 467.25,488.92 471.00,486.00 C474.75,483.08 478.50,478.50 482.25,474.75 C486.00,471.00 489.96,466.21 493.50,463.50 C497.04,460.79 499.75,461.62 503.50,458.50 C507.25,455.38 512.25,449.33 516.00,444.75 C519.75,440.17 523.00,435.17 526.00,431.00 C529.00,426.83 531.62,422.88 534.00,419.75 C536.38,416.62 538.38,414.09 540.25,412.25 C542.12,410.41 543.79,409.24 545.25,408.70 C546.71,408.16 547.54,408.41 549.00,409.00 C550.46,409.59 552.33,410.67 554.00,412.25 C555.67,413.83 556.50,414.96 559.00,418.50 C561.50,422.04 565.67,428.50 569.00,433.50 C572.33,438.50 575.67,443.08 579.00,448.50 C582.33,453.92 585.58,460.25 589.00,466.00 C592.42,471.75 597.75,480.17 599.50,483.00"/><polyline fill="none" stroke="#20b2aa" stroke-width="1.1" stroke-linejoin="round" points="3.00,679.25 10.00,670.50 15.00,635.50 20.00,603.00 25.00,570.50 28.00,552.25 31.25,554.25 37.50,575.50 43.75,594.25 50.00,593.50 54.50,574.25 60.00,563.00 63.75,547.50 67.50,559.25 72.50,583.00 76.25,608.00 82.50,624.25 87.50,645.50 91.25,678.00 95.00,685.50 99.50,696.00 105.00,684.25 110.00,673.00 115.00,661.75 119.50,655.50 123.75,665.50 130.00,664.25 135.00,639.25 140.00,620.50 145.00,583.00 150.00,570.50 155.00,566.75 160.00,580.50 165.00,595.50 167.50,605.50 172.50,578.00 178.00,553.00 180.00,551.75 183.00,560.50 188.00,583.00 193.00,613.00 198.00,645.50 200.50,660.50 207.50,671.00 211.75,654.25 215.50,650.50 219.25,628.00 224.25,618.00 228.00,608.00 231.75,611.75 236.75,605.50 240.50,593.00 245.50,565.50 249.25,545.50 254.25,538.50 258.00,540.50 263.00,553.00 268.00,563.00 273.00,583.00 278.00,610.50 283.00,645.50 288.00,685.50 291.75,686.00 295.50,684.25 300.00,679.75 304.25,682.50 310.50,686.75 314.25,681.75 318.00,663.00 323.00,638.00 328.00,603.00 332.25,585.00 335.50,586.75 339.25,610.50 343.00,643.00 347.50,679.25 351.75,668.00 356.00,665.00 359.50,649.25 364.75,664.25 371.50,690.00 377.25,686.75 383.50,681.75 388.00,673.00 391.00,640.50 394.75,603.00 399.75,578.00 403.50,588.00 408.50,633.00 412.25,663.00 415.50,681.75 419.75,660.50 423.50,645.50 427.75,636.75 433.50,639.25 439.75,653.00 447.25,651.75 452.25,638.00 457.25,623.00 463.50,601.75 468.00,604.25 471.00,609.25 474.75,593.00 479.75,573.00 483.50,578.00 488.50,598.00 492.25,623.00 497.25,635.50 503.50,651.75 507.25,623.00 511.00,578.00 515.50,542.50 521.00,550.50 527.25,556.75 531.00,565.50 534.00,579.25 536.50,588.00 541.50,599.25 546.50,613.00 550.25,633.00 555.25,660.50 559.00,663.00 562.75,661.25 567.75,666.75 572.75,674.25 575.25,679.25 579.00,681.00 583.50,692.50 587.75,688.00 591.50,678.00 595.25,671.00 599.00,675.50"/><path fill="none" stroke="#ff0000" stroke-width="1.2" stroke-dasharray="2.5 3" d="M3.00,673.00 C3.70,672.88 8.93,673.25 10.00,671.75 C11.07,670.25 12.75,664.88 13.75,658.00 C14.75,651.12 18.62,611.75 20.00,603.00 C21.38,594.25 26.25,575.00 27.50,570.50 C28.75,566.00 31.25,557.62 32.50,558.00 C33.75,558.38 38.25,570.70 40.00,574.25 C41.75,577.80 48.25,593.00 50.00,593.50 C51.75,594.00 56.00,582.55 57.50,579.25 C59.00,575.95 63.75,562.50 65.00,560.50 C66.25,558.50 69.00,556.75 70.00,559.25 C71.00,561.75 73.75,580.88 75.00,585.50 C76.25,590.12 81.25,600.75 82.50,605.50 C83.75,610.25 86.25,626.75 87.50,633.00 C88.75,639.25 93.75,662.25 95.00,668.00 C96.25,673.75 98.75,689.25 100.00,690.50 C101.25,691.75 105.75,683.25 107.50,680.50 C109.25,677.75 115.88,665.12 117.50,663.00 C119.12,660.88 122.50,659.12 123.75,659.25 C125.00,659.38 128.75,666.62 130.00,664.25 C131.25,661.88 134.75,641.50 136.25,635.50 C137.75,629.50 143.62,609.75 145.00,604.25 C146.38,598.75 148.88,584.00 150.00,580.50 C151.12,577.00 155.00,569.50 156.25,569.25 C157.50,569.00 161.12,575.50 162.50,578.00 C163.88,580.50 168.45,595.38 170.00,594.25 C171.55,593.12 176.70,570.38 178.00,566.75 C179.30,563.12 182.00,557.38 183.00,558.00 C184.00,558.62 187.00,569.00 188.00,573.00 C189.00,577.00 192.00,592.75 193.00,598.00 C194.00,603.25 197.00,620.50 198.00,625.50 C199.00,630.50 202.00,644.05 203.00,648.00 C204.00,651.95 207.00,664.00 208.00,665.00 C209.00,666.00 211.75,660.45 213.00,658.00 C214.25,655.55 219.00,644.75 220.50,640.50 C222.00,636.25 226.50,618.75 228.00,615.50 C229.50,612.25 234.00,610.50 235.50,608.00 C237.00,605.50 241.75,594.50 243.00,590.50 C244.25,586.50 247.00,572.25 248.00,568.00 C249.00,563.75 252.00,550.75 253.00,548.00 C254.00,545.25 256.88,540.75 258.00,540.50 C259.12,540.25 263.12,543.75 264.25,545.50 C265.38,547.25 268.12,554.25 269.25,558.00 C270.38,561.75 274.38,577.75 275.50,583.00 C276.62,588.25 279.50,604.50 280.50,610.50 C281.50,616.50 284.50,636.50 285.50,643.00 C286.50,649.50 289.50,671.38 290.50,675.50 C291.50,679.62 294.50,683.62 295.50,684.25 C296.50,684.88 299.50,682.08 300.50,681.75 C301.50,681.42 304.38,680.62 305.50,681.00 C306.62,681.38 310.62,685.92 311.75,685.50 C312.88,685.08 315.62,680.00 316.75,676.75 C317.88,673.50 321.75,658.62 323.00,653.00 C324.25,647.38 328.00,626.62 329.25,620.50 C330.50,614.38 334.38,593.50 335.50,591.75 C336.62,590.00 339.50,598.88 340.50,603.00 C341.50,607.12 344.50,627.00 345.50,633.00 C346.50,639.00 349.45,659.25 350.50,663.00 C351.55,666.75 354.82,670.80 356.00,670.50 C357.18,670.20 361.12,660.62 362.25,660.00 C363.38,659.38 366.12,662.33 367.25,664.25 C368.38,666.17 372.25,677.00 373.50,679.25 C374.75,681.50 378.38,687.12 379.75,686.75 C381.12,686.38 385.88,679.62 387.25,675.50 C388.62,671.38 392.38,651.75 393.50,645.50 C394.62,639.25 397.50,618.38 398.50,613.00 C399.50,607.62 402.62,593.00 403.50,591.75 C404.38,590.50 406.38,596.38 407.25,600.50 C408.12,604.62 411.12,626.12 412.25,633.00 C413.38,639.88 417.12,667.50 418.50,669.25 C419.88,671.00 424.50,653.50 426.00,650.50 C427.50,647.50 432.00,639.75 433.50,639.25 C435.00,638.75 439.62,644.25 441.00,645.50 C442.38,646.75 446.00,652.00 447.25,651.75 C448.50,651.50 452.12,645.38 453.50,643.00 C454.88,640.62 459.75,631.12 461.00,628.00 C462.25,624.88 464.75,614.25 466.00,611.75 C467.25,609.25 472.00,605.12 473.50,603.00 C475.00,600.88 479.88,592.62 481.00,590.50 C482.12,588.38 484.00,581.75 484.75,581.75 C485.50,581.75 487.50,587.62 488.50,590.50 C489.50,593.38 493.50,606.25 494.75,610.50 C496.00,614.75 499.88,629.62 501.00,633.00 C502.12,636.38 505.00,645.25 506.00,644.25 C507.00,643.25 510.12,629.62 511.00,623.00 C511.88,616.38 514.00,585.00 514.75,578.00 C515.50,571.00 517.62,555.88 518.50,553.00 C519.38,550.12 522.50,549.00 523.50,549.25 C524.50,549.50 527.45,553.62 528.50,555.50 C529.55,557.38 532.95,565.50 534.00,568.00 C535.05,570.50 537.88,577.25 539.00,580.50 C540.12,583.75 544.00,596.50 545.25,600.50 C546.50,604.50 550.38,616.00 551.50,620.50 C552.62,625.00 555.50,641.62 556.50,645.50 C557.50,649.38 560.25,657.25 561.50,659.25 C562.75,661.25 567.50,663.88 569.00,665.50 C570.50,667.12 575.12,673.62 576.50,675.50 C577.88,677.38 581.75,683.00 582.75,684.25 C583.75,685.50 585.62,688.12 586.50,688.00 C587.38,687.88 590.50,684.05 591.50,683.00 C592.50,681.95 596.00,678.05 596.50,677.50"/><g fill="none" stroke="#000" stroke-width="1" shape-rendering="crispEdges"><rect x="2.5" y="2.5" width="672" height="352"/><rect x="2.5" y="356.5" width="672" height="171"/><rect x="2.5" y="529.5" width="672" height="178"/></g><g fill="#000" shape-rendering="crispEdges"><rect x="675" y="32" width="2" height="1"/><rect x="675" y="64" width="2" height="1"/><rect x="675" y="96" width="2" height="1"/><rect x="675" y="128" width="2" height="1"/><rect x="675" y="160" width="2" height="1"/><rect x="675" y="192" width="2" height="1"/><rect x="675" y="224" width="2" height="1"/><rect x="675" y="256" width="2" height="1"/><rect x="675" y="288" width="2" height="1"/><rect x="675" y="320" width="2" height="1"/><rect x="675" y="352" width="2" height="1"/><rect x="675" y="357" width="2" height="1"/><rect x="675" y="526" width="2" height="1"/><rect x="675" y="531" width="2" height="1"/><rect x="675" y="566" width="2" height="1"/><rect x="675" y="671" width="2" height="1"/><rect x="675" y="707" width="2" height="1"/></g><g fill="#000" shape-rendering="crispEdges"><rect x="3" y="708" width="1" height="3"/><rect x="67" y="708" width="1" height="3"/><rect x="131" y="708" width="1" height="3"/><rect x="195" y="708" width="1" height="3"/><rect x="259" y="708" width="1" height="3"/><rect x="323" y="708" width="1" height="3"/><rect x="387" y="708" width="1" height="3"/><rect x="451" y="708" width="1" height="3"/><rect x="515" y="708" width="1" height="3"/><rect x="579" y="708" width="1" height="3"/></g><g font-family='"Liberation Sans", Arial, sans-serif'><text transform="translate(679.6,35) scale(0.903883495145631,1)" font-size="10.3" fill="#000" stroke="#000" stroke-width="0.25">0.83075</text><text transform="translate(679.6,67) scale(0.903883495145631,1)" font-size="10.3" fill="#000" stroke="#000" stroke-width="0.25">0.82800</text><text transform="translate(679.6,99) scale(0.903883495145631,1)" font-size="10.3" fill="#000" stroke="#000" stroke-width="0.25">0.82525</text><text transform="translate(679.6,227) scale(0.903883495145631,1)" font-size="10.3" fill="#000" stroke="#000" stroke-width="0.25">0.81430</text><text transform="translate(679.6,259) scale(0.903883495145631,1)" font-size="10.3" fill="#000" stroke="#000" stroke-width="0.25">0.81155</text><text transform="translate(679.6,291) scale(0.903883495145631,1)" font-size="10.3" fill="#000" stroke="#000" stroke-width="0.25">0.80880</text><text transform="translate(679.6,323) scale(0.903883495145631,1)" font-size="10.3" fill="#000" stroke="#000" stroke-width="0.25">0.80605</text><text transform="translate(679.6,355) scale(0.903883495145631,1)" font-size="10.3" fill="#000" stroke="#000" stroke-width="0.25">0.80330</text></g><g shape-rendering="crispEdges"><rect x="676" y="17" width="36" height="11" fill="#008080"/><rect x="676" y="64" width="36" height="11" fill="#008080"/><rect x="676" y="99" width="36" height="11" fill="#008080"/><rect x="676" y="122" width="36" height="11" fill="#008080"/><rect x="676" y="152" width="36" height="11" fill="#008080"/><rect x="676" y="187" width="36" height="11" fill="#008080"/><rect x="676" y="210" width="36" height="11" fill="#008080"/><rect x="676" y="239" width="36" height="11" fill="#008080"/><rect x="676" y="268" width="36" height="11" fill="#008080"/><rect x="676" y="297" width="36" height="11" fill="#008080"/><rect x="676" y="338" width="36" height="11" fill="#008080"/><rect x="676" y="325" width="36" height="11" fill="#000"/></g><g font-family='"Liberation Sans", Arial, sans-serif'><text transform="translate(679.8,26) scale(0.903883495145631,1)" font-size="10.3" fill="#fff" stroke="#fff" stroke-width="0.25">0.83150</text><text transform="translate(679.8,73) scale(0.903883495145631,1)" font-size="10.3" fill="#fff" stroke="#fff" stroke-width="0.25">0.82750</text><text transform="translate(679.8,108) scale(0.903883495145631,1)" font-size="10.3" fill="#fff" stroke="#fff" stroke-width="0.25">0.82450</text><text transform="translate(679.8,131) scale(0.903883495145631,1)" font-size="10.3" fill="#fff" stroke="#fff" stroke-width="0.25">0.82250</text><text transform="translate(679.8,161) scale(0.903883495145631,1)" font-size="10.3" fill="#fff" stroke="#fff" stroke-width="0.25">0.82000</text><text transform="translate(679.8,196) scale(0.903883495145631,1)" font-size="10.3" fill="#fff" stroke="#fff" stroke-width="0.25">0.81700</text><text transform="translate(679.8,219) scale(0.903883495145631,1)" font-size="10.3" fill="#fff" stroke="#fff" stroke-width="0.25">0.81500</text><text transform="translate(679.8,248) scale(0.903883495145631,1)" font-size="10.3" fill="#fff" stroke="#fff" stroke-width="0.25">0.81250</text><text transform="translate(679.8,277) scale(0.903883495145631,1)" font-size="10.3" fill="#fff" stroke="#fff" stroke-width="0.25">0.81000</text><text transform="translate(679.8,306) scale(0.903883495145631,1)" font-size="10.3" fill="#fff" stroke="#fff" stroke-width="0.25">0.80750</text><text transform="translate(679.8,347) scale(0.903883495145631,1)" font-size="10.3" fill="#fff" stroke="#fff" stroke-width="0.25">0.80400</text><text transform="translate(679.8,334) scale(0.903883495145631,1)" font-size="10.3" fill="#fff" stroke="#fff" stroke-width="0.25">0.80511</text></g><g font-family='"Liberation Sans", Arial, sans-serif'><text transform="translate(677.6,367.5) scale(0.903883495145631,1)" font-size="10.3" fill="#000" stroke="#000" stroke-width="0.25">0.003264</text><text transform="translate(677.6,453) scale(0.903883495145631,1)" font-size="10.3" fill="#000" stroke="#000" stroke-width="0.25">0.00</text><text transform="translate(677.6,524) scale(0.903883495145631,1)" font-size="10.3" fill="#000" stroke="#000" stroke-width="0.25">-0.00267</text><text transform="translate(677.6,540) scale(0.903883495145631,1)" font-size="10.3" fill="#000" stroke="#000" stroke-width="0.25">100</text><text transform="translate(677.6,569.5) scale(0.903883495145631,1)" font-size="10.3" fill="#000" stroke="#000" stroke-width="0.25">80</text><text transform="translate(677.6,674.5) scale(0.903883495145631,1)" font-size="10.3" fill="#000" stroke="#000" stroke-width="0.25">20</text><text transform="translate(677.6,704) scale(0.903883495145631,1)" font-size="10.3" fill="#000" stroke="#000" stroke-width="0.25">0</text><text transform="translate(7,14) scale(0.9219611650485436,1)" font-size="10.3" fill="#000" stroke="#000" stroke-width="0.25">NZDUSD,H4</text><text transform="translate(66.6,14) scale(0.903883495145631,1)" font-size="10.3" fill="#000" stroke="#000" stroke-width="0.25">0.80638</text><text transform="translate(102.6,14) scale(0.903883495145631,1)" font-size="10.3" fill="#000" stroke="#000" stroke-width="0.25">0.80663</text><text transform="translate(138.6,14) scale(0.903883495145631,1)" font-size="10.3" fill="#000" stroke="#000" stroke-width="0.25">0.80448</text><text transform="translate(174.6,14) scale(0.903883495145631,1)" font-size="10.3" fill="#000" stroke="#000" stroke-width="0.25">0.80511</text><text transform="translate(6.7,370.5) scale(0.903883495145631,1)" font-size="10.3" fill="#000" stroke="#000" stroke-width="0.25">MACD(12,26,9) -0.002405 -0.001155</text><text transform="translate(6.7,543) scale(0.903883495145631,1)" font-size="10.3" fill="#000" stroke="#000" stroke-width="0.25">Stoch(13,3,3) 17.2372 18.1101</text><text transform="translate(4.6,703) scale(0.983,1)" font-size="11.2" fill="#000" stroke="#000" stroke-width="0.25">FxPro MT4, © 2001-2012, MetaQuotes Software Corp.</text><text transform="translate(2,720) scale(0.903883495145631,1)" font-size="10.3" fill="#000" stroke="#000" stroke-width="0.25">29 Mar 2012</text><text transform="translate(66,720) scale(0.903883495145631,1)" font-size="10.3" fill="#000" stroke="#000" stroke-width="0.25">3 Apr 04:00</text><text transform="translate(130,720) scale(0.903883495145631,1)" font-size="10.3" fill="#000" stroke="#000" stroke-width="0.25">5 Apr 20:00</text><text transform="translate(194,720) scale(0.903883495145631,1)" font-size="10.3" fill="#000" stroke="#000" stroke-width="0.25">10 Apr 12:00</text><text transform="translate(258,720) scale(0.903883495145631,1)" font-size="10.3" fill="#000" stroke="#000" stroke-width="0.25">13 Apr 04:00</text><text transform="translate(322,720) scale(0.903883495145631,1)" font-size="10.3" fill="#000" stroke="#000" stroke-width="0.25">17 Apr 20:00</text><text transform="translate(386,720) scale(0.903883495145631,1)" font-size="10.3" fill="#000" stroke="#000" stroke-width="0.25">20 Apr 12:00</text><text transform="translate(450,720) scale(0.903883495145631,1)" font-size="10.3" fill="#000" stroke="#000" stroke-width="0.25">25 Apr 04:00</text><text transform="translate(514,720) scale(0.903883495145631,1)" font-size="10.3" fill="#000" stroke="#000" stroke-width="0.25">27 Apr 20:00</text><text transform="translate(578,720) scale(0.903883495145631,1)" font-size="10.3" fill="#000" stroke="#000" stroke-width="0.25">2 May 12:00</text></g></svg></body></html>
